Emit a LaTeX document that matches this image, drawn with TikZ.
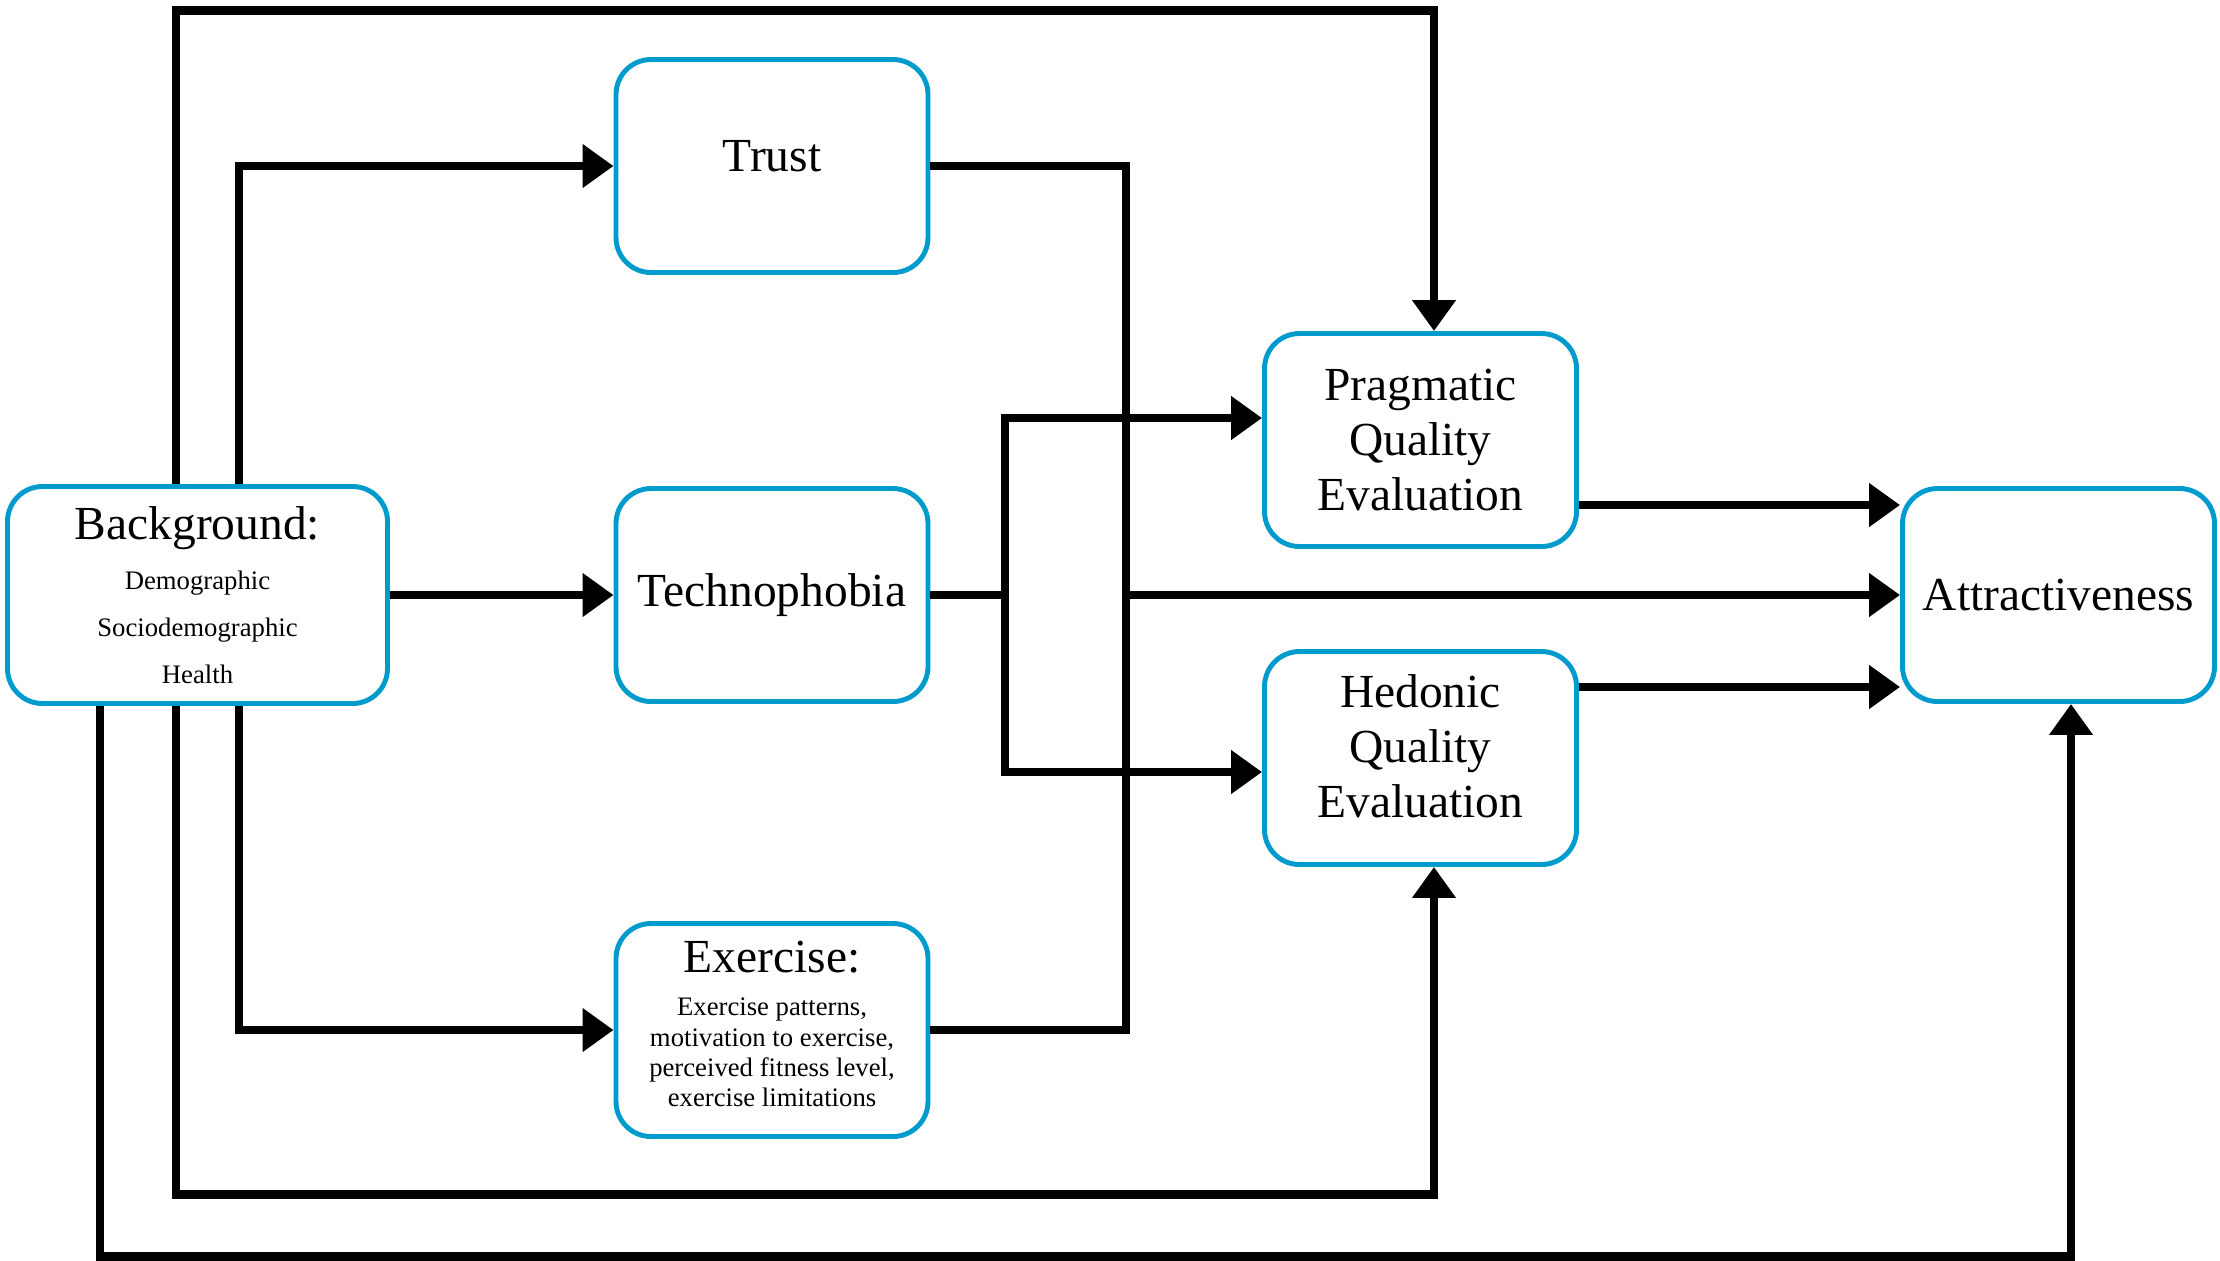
\documentclass[tikz,border=0pt]{standalone}
\usepackage{fontspec}
\setmainfont{Liberation Serif}
\usetikzlibrary{arrows.meta}
\definecolor{boxblue}{RGB}{0,155,205}
\begin{document}
\begin{tikzpicture}[
  box/.style={draw=boxblue,line width=1.4pt,rounded corners=3.5mm,
    minimum width=3.12cm,minimum height=2.13cm,align=center,inner sep=1pt,
    font=\fontsize{13.5}{15.6}\selectfont},
  link/.style={line width=2.4pt},
  arr/.style={link,-{Triangle[length=3.1mm,width=4.2mm]}}]
  \useasboundingbox (0,0) rectangle (22.2,-12.6);
  \node[box,minimum width=3.8cm,minimum height=2.17cm,
    font=\fontsize{7.6}{13.3}\selectfont] (bg) at (1.975,-5.95)
  {\fontsize{13.5}{15.6}\selectfont Background:\\[1pt]
    Demographic\\Sociodemographic\\Health};
  \node[box,text depth=5.7pt] (trust) at (7.72,-1.66) {Trust};
  \node[box] (techno) at (7.72,-5.95) {Technophobia};
  \node[box,text depth=3.3pt,font=\fontsize{7.6}{8.65}\selectfont]
  (exercise) at (7.72,-10.30)
  {\fontsize{13.5}{15.6}\selectfont Exercise:\\[3.5pt]
    Exercise patterns,\\motivation to exercise,\\perceived fitness level,\\
    exercise limitations};
  \node[box] (prag) at (14.205,-4.40) {Pragmatic\\Quality\\Evaluation};
  \node[box,text depth=6.8pt] (hed) at (14.205,-7.58)
  {Hedonic\\Quality\\Evaluation};
  \node[box] (attr) at (20.585,-5.95) {Attractiveness};
  % end points on the boxes
  \coordinate (bgAs) at ([xshift=-9.75mm]bg.south);
  \coordinate (bgBn) at ([xshift=-2.15mm]bg.north);
  \coordinate (bgBs) at ([xshift=-2.15mm]bg.south);
  \coordinate (bgCn) at ([xshift=4.15mm]bg.north);
  \coordinate (bgCs) at ([xshift=4.15mm]bg.south);
  \coordinate (pragin) at ([xshift=1.35mm]prag.north);
  \coordinate (hedin) at ([xshift=1.35mm]hed.south);
  \coordinate (attrin) at ([xshift=1.25mm]attr.south);
  \coordinate (pragL) at ([yshift=2.2mm]prag.west);
  \coordinate (hedL) at ([yshift=-1.4mm]hed.west);
  \coordinate (pragR) at ([yshift=-6.5mm]prag.east);
  \coordinate (hedR) at ([yshift=7.1mm]hed.east);
  \coordinate (fork) at (10.05,-5.95);
  \coordinate (join) at (11.26,-5.95);
  % connectors
  \draw[arr] (bg.east) -- (techno.west);
  \draw[arr] (bgCn) |- (trust.west);
  \draw[arr] (bgCs) |- (exercise.west);
  \draw[arr] (bgBn) -- ++(0,4.735) -| (pragin);
  \draw[arr] (bgBs) -- ++(0,-4.885) -| (hedin);
  \draw[arr] (bgAs) -- ++(0,-5.505) -| (attrin);
  \draw[link] (techno.east) -- (fork);
  \draw[arr] (fork) |- (pragL);
  \draw[arr] (fork) |- (hedL);
  \draw[link] (trust.east) -| (join);
  \draw[link] (exercise.east) -| (join);
  \draw[arr] (join) -- (attr.west);
  \draw[arr] (pragR) -- (pragR -| attr.west);
  \draw[arr] (hedR) -- (hedR -| attr.west);
\end{tikzpicture}
\end{document}
